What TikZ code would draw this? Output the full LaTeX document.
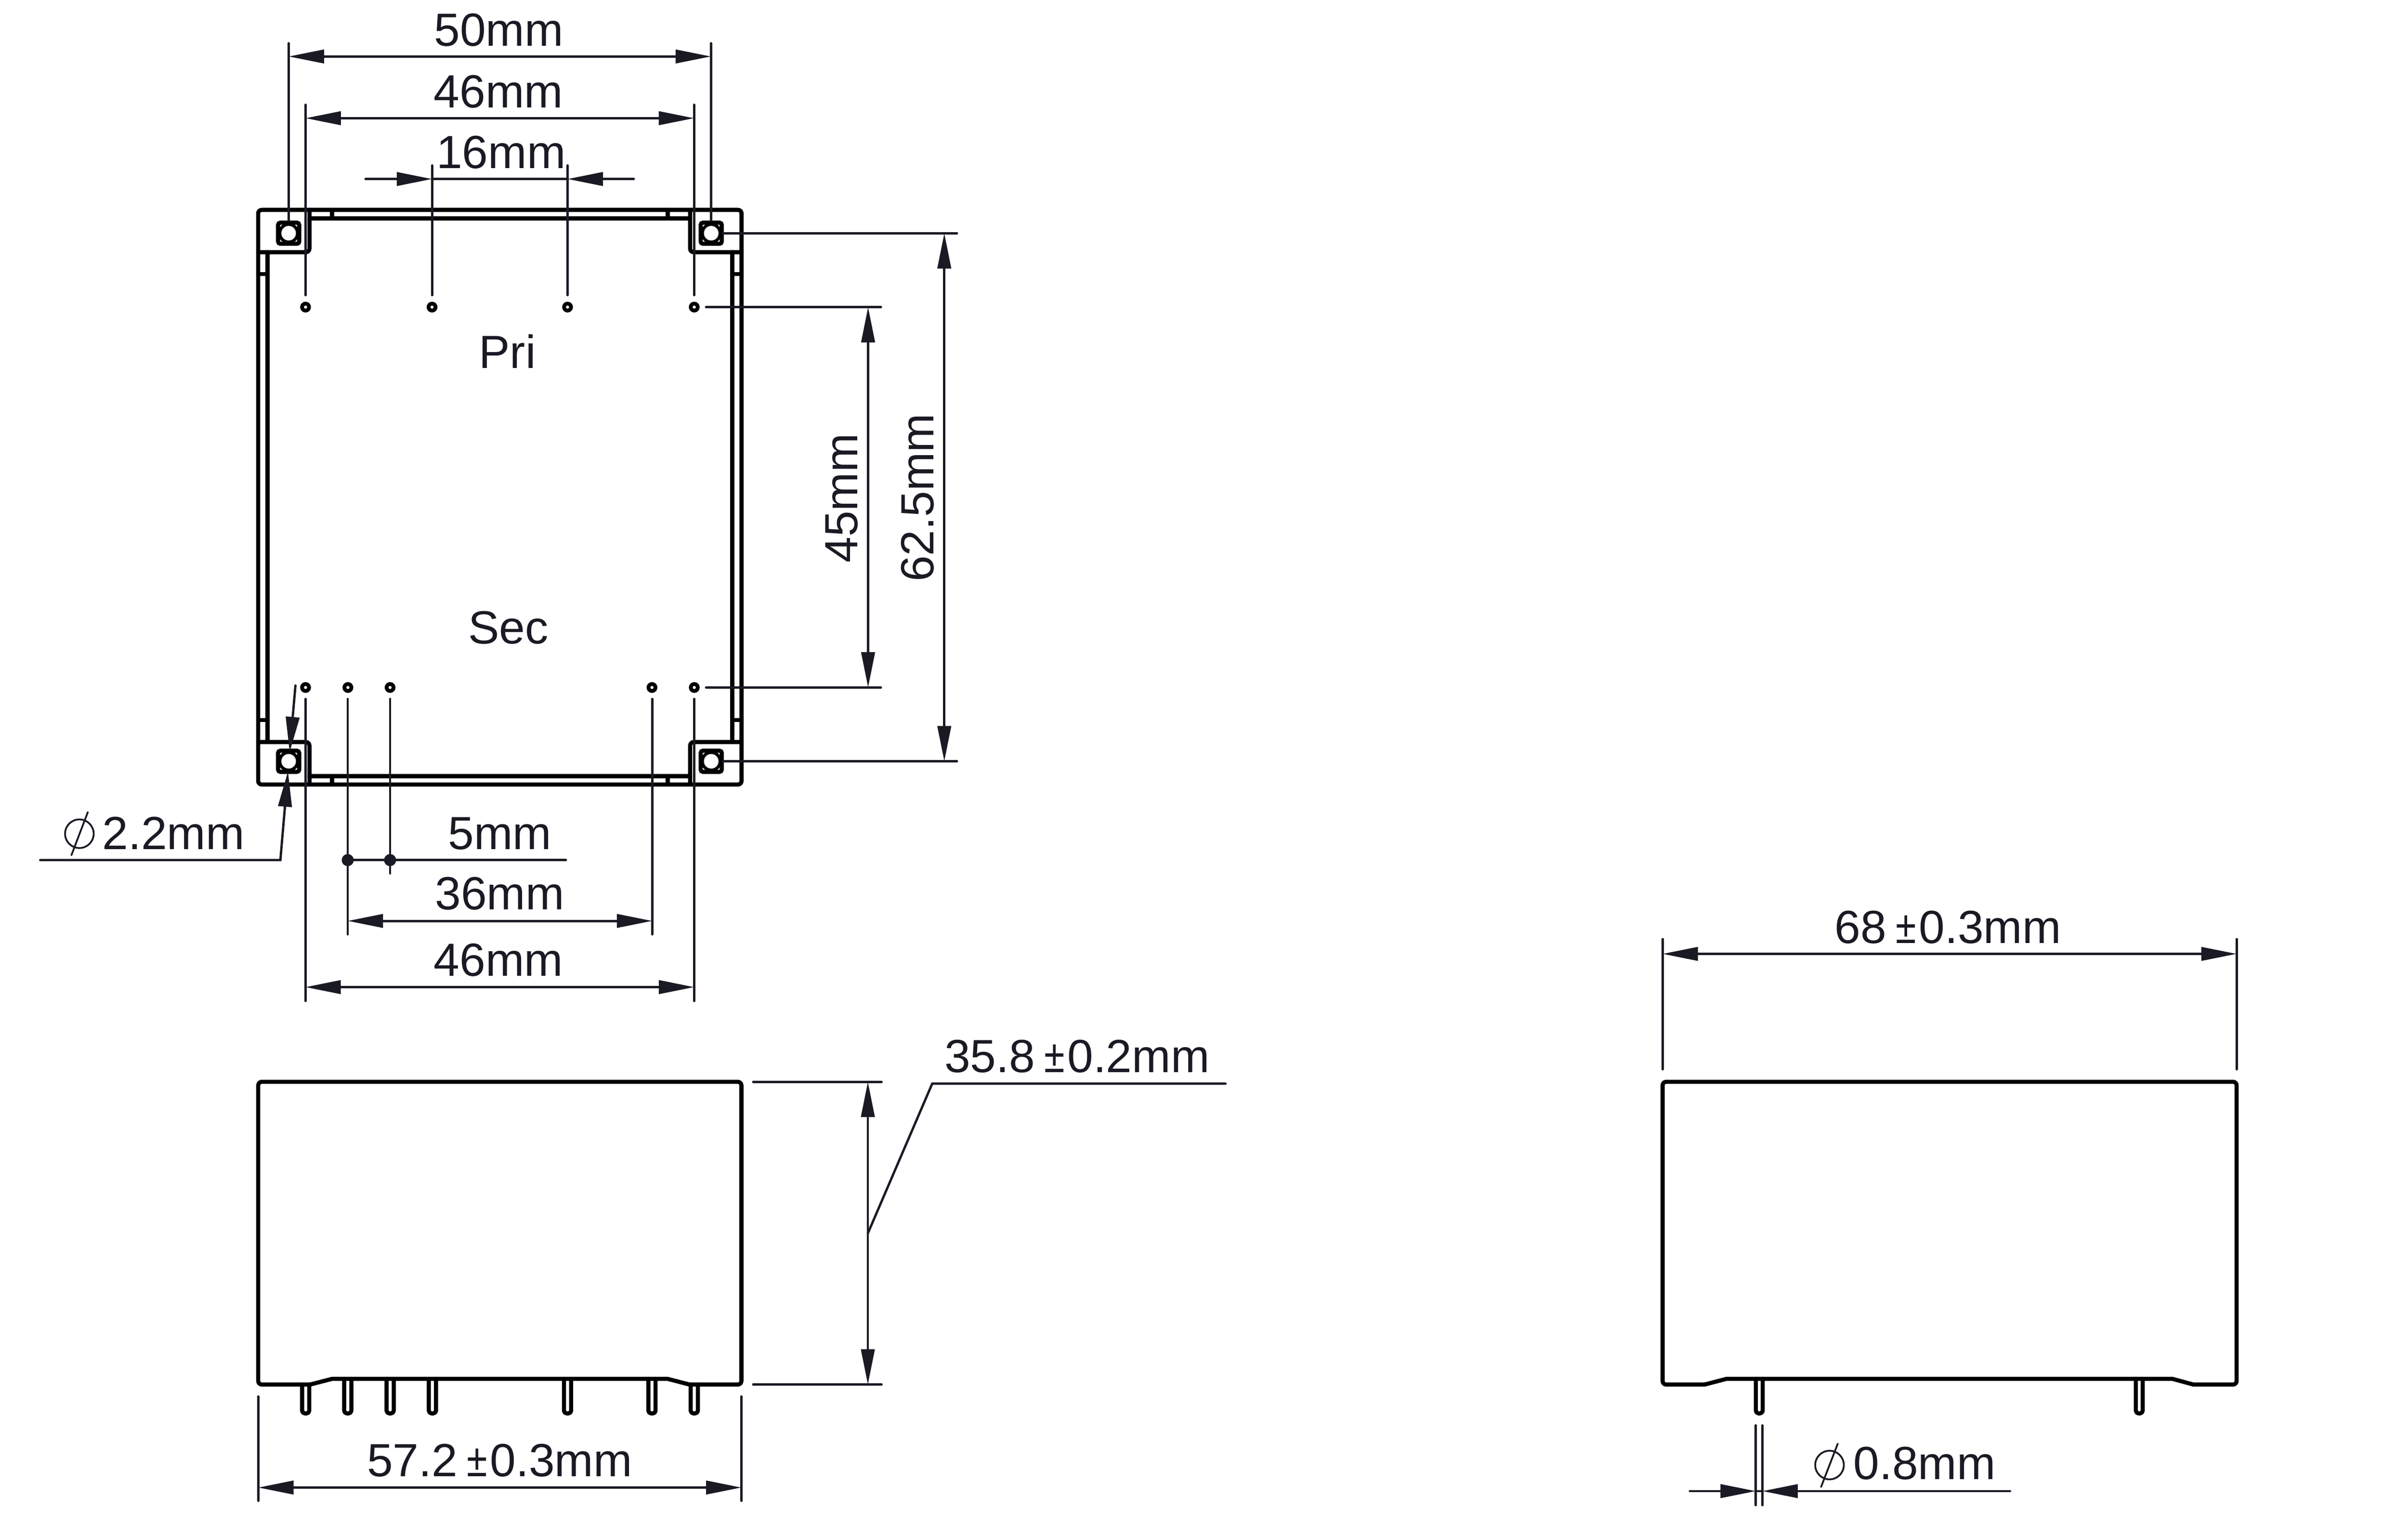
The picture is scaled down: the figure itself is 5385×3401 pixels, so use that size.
\documentclass[tikz,border=0pt]{standalone}
\usepackage{fontspec}
\usepackage{graphicx}
\setmainfont{Liberation Sans}
\usetikzlibrary{arrows.meta}
\definecolor{dimc}{HTML}{1A1A24}
\tikzset{
  dimtip/.tip={Triangle[length=7.9pt,width=3pt]},
  body/.style={draw=black,line width=0.92pt,line join=round,line cap=round},
  thin line/.style={draw=dimc,line width=0.52pt,line cap=round},
  both/.style={thin line,{dimtip}-{dimtip}},
  one/.style={thin line,-{dimtip}},
  lbl/.style={inner sep=0pt,outer sep=0pt,text=dimc,font=\fontsize{10.4}{12}\selectfont,anchor=base west},
  lblv/.style={inner sep=0pt,outer sep=0pt,text=dimc,font=\fontsize{10.4}{12}\selectfont,anchor=base,rotate=90},
}
\newcommand{\pmgap}{\hspace{0.2em}\scalebox{0.8}[1]{±}\hspace{0.06em}}
\begin{document}
\begin{tikzpicture}[x=0.1pt,y=-0.1pt]
\useasboundingbox (0,0) rectangle (5385,3401);
% ---- top view outline
\draw[body,rounded corners=0.8pt] (577.3,469.3) rectangle (1658.3,1754.3);
\draw[body,rounded corners=0.8pt] (577.3,564) -- (692,564) -- (692,469.3);
\draw[body,rounded corners=0.8pt] (1543.3,469.3) -- (1543.3,564) -- (1658.3,564);
\draw[body,rounded corners=0.8pt] (577.3,1659.3) -- (692,1659.3) -- (692,1754.3);
\draw[body,rounded corners=0.8pt] (1543.3,1754.3) -- (1543.3,1659.3) -- (1658.3,1659.3);
\draw[body] (692,488.3) -- (1543.3,488.3);
\draw[body] (692,1735.3) -- (1543.3,1735.3);
\draw[body] (598.3,564) -- (598.3,1659.3);
\draw[body] (1637.3,564) -- (1637.3,1659.3);
\foreach \x in {742.3,1493.3}{
  \draw[body] (\x,469.3) -- (\x,488.3);
  \draw[body] (\x,1735.3) -- (\x,1754.3);
}
\foreach \y in {613,1610}{
  \draw[body] (577.3,\y) -- (598.3,\y);
  \draw[body] (1637.3,\y) -- (1658.3,\y);
}
% ---- corner pads
\foreach \x/\y in {645.5/521.5,1590.5/521.5,645.5/1702.3,1590.5/1702.3}{
  \draw[line width=0.92pt,draw=black,fill=white,rounded corners=0.5pt]
     (\x-23.6,\y-23.6) rectangle (\x+23.6,\y+23.6);
  \fill[black] (\x,\y) circle[radius=2.34pt];
  \fill[white] (\x,\y) circle[radius=1.63pt];
}
% ---- pins of the top view
\foreach \x/\y in {683.3/686.7,966.2/686.7,1269.2/686.7,1552.5/686.7,
                   683.3/1537.3,778/1537.3,872.3/1537.3,1458/1537.3,1552.6/1537.3}{
  \draw[black,line width=0.85pt] (\x,\y) circle[radius=0.78pt];
}
% ---- extension lines, top view
\draw[thin line] (645.6,96.7) -- (645.6,493);
\draw[thin line] (1589.8,96.7) -- (1589.8,493);
\draw[thin line] (683.4,234.3) -- (683.4,660);
\draw[thin line] (1552.3,234.3) -- (1552.3,660);
\draw[thin line] (966.2,370) -- (966.2,660);
\draw[thin line] (1269.2,370) -- (1269.2,660);
\draw[thin line] (1616.7,521.5) -- (2140,521.5);
\draw[thin line] (1579,686.7) -- (1970,686.7);
\draw[thin line] (1579,1537.3) -- (1970,1537.3);
\draw[thin line] (1616.7,1702.3) -- (2140,1702.3);
\draw[thin line] (683,1563) -- (683,2238.3);
\draw[thin line] (777.6,1563) -- (777.6,2089.3);
\draw[thin line] (872.3,1563) -- (872.3,1953);
\draw[thin line] (1458.5,1563) -- (1458.5,2089.3);
\draw[thin line] (1552.5,1563) -- (1552.5,2238.3);
% ---- dimensions, top view
\draw[both] (645.6,126.3) -- (1589.8,126.3);
\draw[both] (683.4,264.3) -- (1552.3,264.3);
\draw[one] (817.5,400.3) -- (966.2,400.3);
\draw[thin line] (966.2,400.3) -- (1269.2,400.3);
\draw[one] (1417.3,400.3) -- (1269.2,400.3);
\draw[both] (1941.3,686.7) -- (1941.3,1537.3);
\draw[both] (2111.7,521.5) -- (2111.7,1702.3);
\draw[both] (777.6,2059.3) -- (1458.5,2059.3);
\draw[both] (683,2207.3) -- (1552.5,2207.3);
\draw[thin line] (777.6,1923.3) -- (1265.4,1923.3);
\fill[dimc] (777.6,1923.3) circle[radius=1.35pt];
\fill[dimc] (872.3,1923.3) circle[radius=1.35pt];
% ---- diameter 2.2 leader
\draw[one] (660.7,1533) -- (647.7,1682);
\draw[thin line,-{dimtip},line join=miter] (90,1923.3) -- (627,1923.3) -- (644,1725);
\draw[dimc,line width=0.4pt] (177.5,1864.3) circle[radius=3.2pt];
\draw[dimc,line width=0.4pt,line cap=round] (159.7,1912.3) -- (196.4,1816);
% ---- front view
\draw[body,rounded corners=0.8pt] (1542,3096) -- (1658,3096) -- (1658,2419) -- (577.5,2419) -- (577.5,3096) -- (693.5,3096);
\draw[body] (1542,3096) -- (1493,3083.3) -- (742.5,3083.3) -- (693.5,3096);
\foreach \x/\y in {683.6/3096,777.7/3083.3,872.5/3083.3,967/3083.3,1269.2/3083.3,1458/3083.3,1552.6/3096}{
  \draw[body,rounded corners=0.6pt] (\x-8,\y) -- (\x-8,3160.5) -- (\x+8,3160.5) -- (\x+8,\y);
}
\draw[thin line] (1684.4,2419) -- (1971.4,2419);
\draw[thin line] (1684.4,3096) -- (1971.4,3096);
\draw[both] (1940.8,2419) -- (1940.8,3096);
\draw[thin line,line join=miter] (2740.5,2423.1) -- (2084.7,2423.1) -- (1940.8,2757.7);
\draw[thin line] (577.5,3122.7) -- (577.5,3356);
\draw[thin line] (1658,3122.7) -- (1658,3356);
\draw[both] (577.5,3326.3) -- (1658,3326.3);
% ---- side view
\draw[body,rounded corners=0.8pt] (4905,3096) -- (5001.7,3096) -- (5001.7,2419) -- (3718,2419) -- (3718,3096) -- (3812,3096);
\draw[body] (4905,3096) -- (4858.3,3083.3) -- (3860.7,3083.3) -- (3812,3096);
\foreach \x in {3934.2,4784}{
  \draw[body,rounded corners=0.6pt] (\x-7.6,3083.3) -- (\x-7.6,3160.5) -- (\x+7.6,3160.5) -- (\x+7.6,3083.3);
}
\draw[thin line] (3718,2100) -- (3718,2391);
\draw[thin line] (5001.7,2100) -- (5001.7,2391);
\draw[both] (3718,2133) -- (5001.7,2133);
\draw[thin line] (3926.5,3187.3) -- (3926.5,3365.7);
\draw[thin line] (3941.3,3187.3) -- (3941.3,3365.7);
\draw[one] (3779,3334.3) -- (3926.5,3334.3);
\draw[thin line] (3926.5,3334.3) -- (3941.3,3334.3);
\draw[one] (4495,3334.3) -- (3941.3,3334.3);
\draw[dimc,line width=0.4pt] (4091.3,3276) circle[radius=3.2pt];
\draw[dimc,line width=0.4pt,line cap=round] (4072.4,3325) -- (4109.7,3228.3);
% ---- labels
\node[lbl] (t50) at (971,102.7) {50mm};
\node[lbl] (t46a) at (970,240.7) {46mm};
\node[lbl] (t16) at (976,376.7) {16mm};
\node[lbl] (tpri) at (1071,823) {Pri};
\node[lbl] (tsec) at (1047,1439) {Sec};
\node[lblv] (t45) at (1917.3,1114) {45mm};
\node[lblv] (t625) at (2087.3,1113) {62.5mm};
\node[lbl] (t22) at (229,1899) {2.2mm};
\node[lbl] (t5) at (1002,1899.3) {5mm};
\node[lbl] (t36) at (973,2034) {36mm};
\node[lbl] (t46b) at (970,2182) {46mm};
\node[lbl] (t358) at (2112,2398) {35.8\pmgap 0.2mm};
\node[lbl] (t572) at (821,3301) {57.2\pmgap 0.3mm};
\node[lbl] (t68) at (4103,2109) {68\pmgap 0.3mm};
\node[lbl] (t08) at (4145,3308) {0.8mm};
\end{tikzpicture}
\end{document}
